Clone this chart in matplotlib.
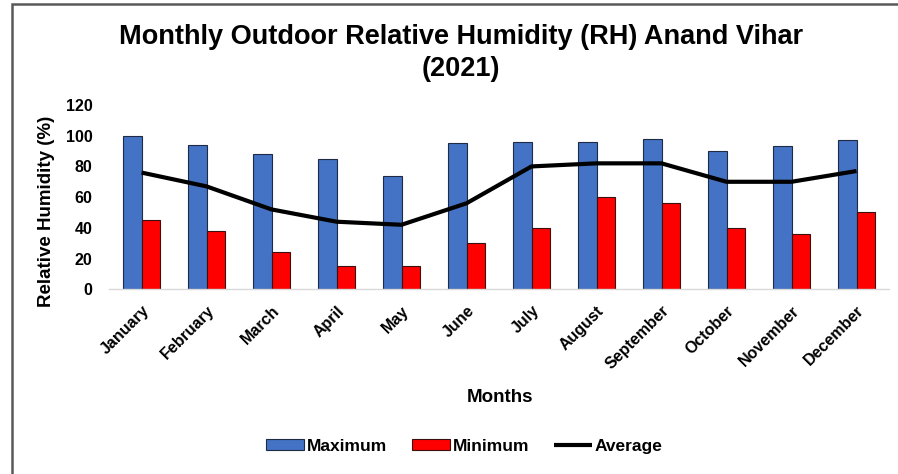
import numpy as np
import matplotlib
matplotlib.use("Agg")
import matplotlib.pyplot as plt
from matplotlib.patches import Rectangle

plt.rcParams['font.family'] = ['Liberation Sans', 'DejaVu Sans']
plt.rcParams['font.weight'] = 'bold'

months = ["January", "February", "March", "April", "May", "June",
          "July", "August", "September", "October", "November", "December"]
rh_max = [100, 94, 88, 85, 74, 95, 96, 96, 98, 90, 93, 97]
rh_min = [45, 38, 24, 15, 15, 30, 40, 60, 56, 40, 36, 50]
rh_avg = [76, 67, 52, 44, 42, 56, 80, 82, 82, 70, 70, 77]
y_ticks = [0, 20, 40, 60, 80, 100, 120]

fig = plt.figure(figsize=(8.98, 4.74), dpi=100)
ax = fig.add_axes([0.1214, 0.3897, 0.8686, 0.3888])

x = np.arange(len(months))
w = 0.287
bars_max = ax.bar(x - w / 2, rh_max, w, color="#4472C4", edgecolor="#1F2A44",
                  linewidth=0.8, label="Maximum", zorder=2)
bars_min = ax.bar(x + w / 2, rh_min, w, color="#FF0000", edgecolor="#3A1010",
                  linewidth=0.8, label="Minimum", zorder=2)
avg_line, = ax.plot(x, rh_avg, color="black", linewidth=3.0,
                    solid_joinstyle="round", solid_capstyle="butt",
                    label="Average", zorder=3)

ax.set_xlim(-0.5, len(months) - 0.5)
ax.set_ylim(0, 120)
ax.set_yticks(y_ticks)
ax.set_yticklabels([str(v) for v in y_ticks], fontsize=11.5, fontweight="bold")
ax.set_xticks(x)
ax.set_xticklabels(months, rotation=45, ha="right", rotation_mode="anchor",
                   fontsize=11.5, fontweight="bold")
ax.tick_params(axis="both", length=0)
ax.tick_params(axis="y", pad=12)
ax.tick_params(axis="x", pad=10)

for side in ("top", "right", "left"):
    ax.spines[side].set_visible(False)
ax.spines["bottom"].set_color("#D9D9D9")
ax.spines["bottom"].set_linewidth(1.0)

fig.text(0.0523, 0.554, "Relative Humidity (%)", rotation=90, ha="center",
         va="center", fontsize=13.5, fontweight="bold")
fig.text(0.5565, 0.162, "Months", ha="center", va="center",
         fontsize=13.5, fontweight="bold")
fig.text(0.513, 0.889, "Monthly Outdoor Relative Humidity (RH) Anand Vihar\n(2021)",
         ha="center", va="center", fontsize=19.5, fontweight="bold",
         linespacing=1.3)

fig.legend([bars_max, bars_min, avg_line], ["Maximum", "Minimum", "Average"],
           loc="center", bbox_to_anchor=(0.517, 0.058),
           ncol=3, frameon=False, handlelength=2.2,
           handleheight=0.6, handletextpad=0.17, columnspacing=1.4,
           prop={"weight": "bold", "size": 12.5})

# Outer chart border
fig.patches.append(Rectangle((12 / 898, -0.05), 1.2, 1.05 - 4 / 474,
                             transform=fig.transFigure, fill=False,
                             edgecolor="#595959", linewidth=1.8))

fig.savefig("out.png", dpi=100)
